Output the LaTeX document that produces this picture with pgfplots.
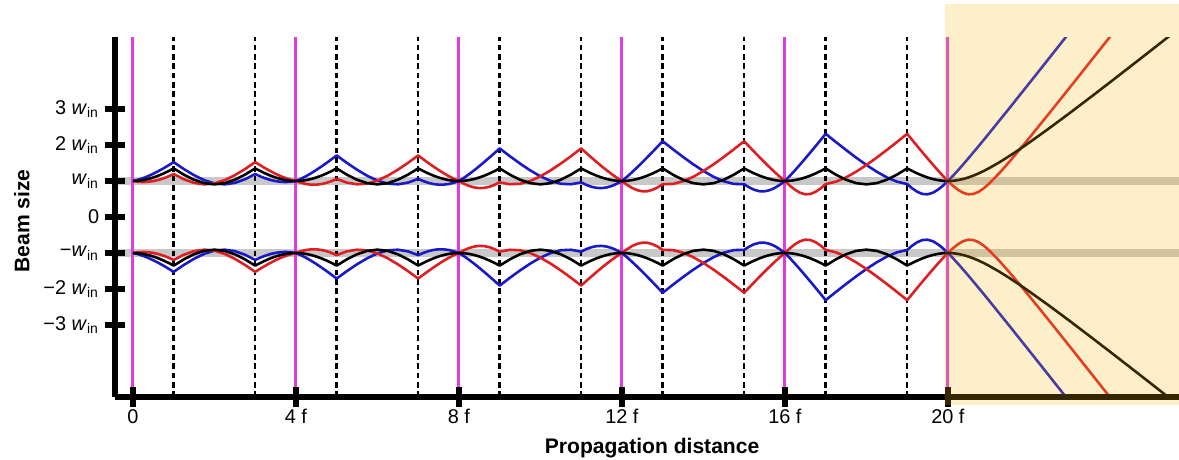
\documentclass[border=0pt]{standalone}
\usepackage{fontspec}
\setmainfont{Liberation Sans}
\usepackage{pgfplots}
\usepackage{pgfplotstable}
\pgfplotsset{compat=1.18}

\definecolor{bcol}{RGB}{25,25,200}
\definecolor{rcol}{RGB}{222,30,35}
\definecolor{magcol}{RGB}{222,60,222}
\definecolor{bandcol}{RGB}{200,200,200}
\definecolor{ovcol}{RGB}{250,180,20}

% beam half-width in units of w_in, upper branch (lower branch is the mirror)
\pgfplotstableread{
x w
0 1
0.125 1.034
0.25 1.080
0.375 1.136
0.5 1.201
0.625 1.274
0.75 1.352
0.875 1.436
1 1.524
1.25 1.331
1.5 1.161
1.75 1.024
2 0.934
2.25 0.907
2.5 0.947
2.75 1.048
3 1.193
3.125 1.129
3.25 1.074
3.375 1.029
3.5 0.997
3.625 0.977
3.75 0.971
3.875 0.978
4 1
4.125 1.062
4.25 1.135
4.375 1.217
4.5 1.306
4.625 1.401
4.75 1.500
4.875 1.604
5 1.710
5.25 1.504
5.5 1.313
5.75 1.145
6 1.012
6.25 0.928
6.5 0.908
6.75 0.955
7 1.060
7.125 0.998
7.25 0.949
7.375 0.915
7.5 0.898
7.625 0.898
7.75 0.916
7.875 0.951
8 1
8.125 1.090
8.25 1.191
8.375 1.298
8.5 1.412
8.625 1.531
8.75 1.653
8.875 1.777
9 1.905
9.25 1.689
9.5 1.484
9.75 1.295
10 1.130
10.25 1.001
10.5 0.923
10.75 0.910
11 0.963
11.125 0.893
11.25 0.840
11.375 0.810
11.5 0.803
11.625 0.821
11.75 0.862
11.875 0.923
12 1
12.125 1.118
12.25 1.246
12.375 1.380
12.5 1.519
12.625 1.662
12.75 1.808
12.875 1.956
13 2.105
13.25 1.883
13.5 1.668
13.75 1.464
14 1.278
14.25 1.116
14.5 0.991
14.75 0.919
15 0.912
15.125 0.821
15.25 0.754
15.375 0.716
15.5 0.713
15.625 0.745
15.75 0.807
15.875 0.895
16 1
16.125 1.146
16.25 1.301
16.375 1.462
16.5 1.627
16.625 1.795
16.75 1.965
16.875 2.137
17 2.310
17.25 2.083
17.5 1.861
17.75 1.647
18 1.445
18.25 1.260
18.5 1.101
18.75 0.981
19 0.915
19.125 0.793
19.25 0.698
19.375 0.640
19.5 0.630
19.625 0.671
19.75 0.754
19.875 0.867
20 1
20.125 1.146
20.25 1.301
20.375 1.462
20.5 1.627
20.75 1.965
21 2.310
21.5 3.012
22 3.722
22.5 4.435
23 5.152
}\bluedata

\pgfplotstableread{
x w
0 1
0.125 0.978
0.25 0.971
0.375 0.977
0.5 0.997
0.625 1.029
0.75 1.074
0.875 1.129
1 1.193
1.25 1.048
1.5 0.947
1.75 0.907
2 0.934
2.25 1.024
2.5 1.161
2.75 1.331
3 1.524
3.125 1.436
3.25 1.352
3.375 1.274
3.5 1.201
3.625 1.136
3.75 1.080
3.875 1.034
4 1
4.125 0.951
4.25 0.916
4.375 0.898
4.5 0.898
4.625 0.915
4.75 0.949
4.875 0.998
5 1.060
5.25 0.955
5.5 0.908
5.75 0.928
6 1.012
6.25 1.145
6.5 1.313
6.75 1.504
7 1.710
7.125 1.604
7.25 1.500
7.375 1.401
7.5 1.306
7.625 1.217
7.75 1.135
7.875 1.062
8 1
8.125 0.923
8.25 0.862
8.375 0.821
8.5 0.803
8.625 0.810
8.75 0.840
8.875 0.893
9 0.963
9.25 0.910
9.5 0.923
9.75 1.001
10 1.130
10.25 1.295
10.5 1.484
10.75 1.689
11 1.905
11.125 1.777
11.25 1.653
11.375 1.531
11.5 1.412
11.625 1.298
11.75 1.191
11.875 1.090
12 1
12.125 0.895
12.25 0.807
12.375 0.745
12.5 0.713
12.625 0.716
12.75 0.754
12.875 0.821
13 0.912
13.25 0.919
13.5 0.991
13.75 1.116
14 1.278
14.25 1.464
14.5 1.668
14.75 1.883
15 2.105
15.125 1.956
15.25 1.808
15.375 1.662
15.5 1.519
15.625 1.380
15.75 1.246
15.875 1.118
16 1
16.125 0.867
16.25 0.754
16.375 0.671
16.5 0.630
16.625 0.640
16.75 0.698
16.875 0.793
17 0.915
17.25 0.981
17.5 1.101
17.75 1.260
18 1.445
18.25 1.647
18.5 1.861
18.75 2.083
19 2.310
19.125 2.137
19.25 1.965
19.375 1.795
19.5 1.627
19.625 1.462
19.75 1.301
19.875 1.146
20 1
20.125 0.867
20.25 0.754
20.375 0.671
20.5 0.630
20.625 0.640
20.75 0.698
20.875 0.793
21 0.915
21.25 1.204
21.5 1.524
21.75 1.859
22 2.202
22.5 2.902
23 3.611
23.5 4.324
24 5.040
}\reddata

\pgfplotstableread{
x w
0 1
0.125 1.006
0.25 1.025
0.375 1.056
0.5 1.098
0.625 1.149
0.75 1.209
0.875 1.276
1 1.350
1.25 1.177
1.5 1.035
1.75 0.940
2 0.907
2.25 0.940
2.5 1.035
2.75 1.177
3 1.350
3.125 1.276
3.25 1.209
3.375 1.149
3.5 1.098
3.625 1.056
3.75 1.025
3.875 1.006
4 1
4.125 1.006
4.25 1.025
4.375 1.056
4.5 1.098
4.625 1.149
4.75 1.209
4.875 1.276
5 1.350
5.25 1.177
5.5 1.035
5.75 0.940
6 0.907
6.25 0.940
6.5 1.035
6.75 1.177
7 1.350
7.125 1.276
7.25 1.209
7.375 1.149
7.5 1.098
7.625 1.056
7.75 1.025
7.875 1.006
8 1
8.125 1.006
8.25 1.025
8.375 1.056
8.5 1.098
8.625 1.149
8.75 1.209
8.875 1.276
9 1.350
9.25 1.177
9.5 1.035
9.75 0.940
10 0.907
10.25 0.940
10.5 1.035
10.75 1.177
11 1.350
11.125 1.276
11.25 1.209
11.375 1.149
11.5 1.098
11.625 1.056
11.75 1.025
11.875 1.006
12 1
12.125 1.006
12.25 1.025
12.375 1.056
12.5 1.098
12.625 1.149
12.75 1.209
12.875 1.276
13 1.350
13.25 1.177
13.5 1.035
13.75 0.940
14 0.907
14.25 0.940
14.5 1.035
14.75 1.177
15 1.350
15.125 1.276
15.25 1.209
15.375 1.149
15.5 1.098
15.625 1.056
15.75 1.025
15.875 1.006
16 1
16.125 1.006
16.25 1.025
16.375 1.056
16.5 1.098
16.625 1.149
16.75 1.209
16.875 1.276
17 1.350
17.25 1.177
17.5 1.035
17.75 0.940
18 0.907
18.25 0.940
18.5 1.035
18.75 1.177
19 1.350
19.125 1.276
19.25 1.209
19.375 1.149
19.5 1.098
19.625 1.056
19.75 1.025
19.875 1.006
20 1
20.125 1.006
20.25 1.025
20.375 1.056
20.5 1.098
20.625 1.149
20.75 1.209
20.875 1.276
21 1.350
21.25 1.511
21.5 1.688
21.75 1.875
22 2.071
22.5 2.477
23 2.898
23.5 3.327
24 3.762
24.5 4.201
25 4.642
25.5 5.086
}\blackdata

\begin{document}
\begin{tikzpicture}
\useasboundingbox (-1.725cm,-0.945cm) rectangle (15.96cm,5.955cm);
\begin{axis}[
    x=0.61125cm, y=0.54cm,
    xmin=-0.44, xmax=25.67, ymin=-5, ymax=5,
    axis on top,
    axis x line=bottom, axis y line=left,
    axis line style={line width=2.6pt, -, black},
    xtick={0,4,8,12,16,20},
    xticklabels={0, 4 f, 8 f, 12 f, 16 f, 20 f},
    ytick={-3,-2,-1,0,1,2,3},
    yticklabels={−3 \textit{w}\textsubscript{in}, −2 \textit{w}\textsubscript{in}, −\textit{w}\textsubscript{in}, 0, \textit{w}\textsubscript{in}, 2 \textit{w}\textsubscript{in}, 3 \textit{w}\textsubscript{in}},
    tick align=center,
    major tick length=8.5pt,
    tick style={line width=2.8pt, black},
    tick label style={font=\fontsize{8.5}{10}\selectfont},
    xticklabel style={yshift=2.5pt},
    yticklabel style={xshift=1pt},
    xlabel={\textbf{Propagation distance}},
    ylabel={\textbf{Beam size}},
    label style={font=\fontsize{9}{11}\selectfont},
    xlabel style={at={(axis description cs:0.5048,-0.142)}, anchor=center},
    ylabel style={at={(axis description cs:-0.0875,0.489)}, anchor=center},
]
\addplot[bandcol, line width=3pt] coordinates {(-0.44,1) (25.67,1)};
\addplot[bandcol, line width=3pt] coordinates {(-0.44,-1) (25.67,-1)};
\pgfplotsinvokeforeach{1,3,...,19}{
  \addplot[black, line width=1.1pt, dash pattern=on 2.4pt off 1.6pt] coordinates {(#1,-5) (#1,5)};
}
\pgfplotsinvokeforeach{0,4,...,20}{
  \addplot[magcol, line width=1.3pt] coordinates {(#1,-5) (#1,5)};
}
\addplot[bcol, line width=1.1pt, line join=round] table[x=x, y=w] {\bluedata};
\addplot[bcol, line width=1.1pt, line join=round] table[x=x, y expr=-\thisrow{w}] {\bluedata};
\addplot[rcol, line width=1.1pt, line join=round] table[x=x, y=w] {\reddata};
\addplot[rcol, line width=1.1pt, line join=round] table[x=x, y expr=-\thisrow{w}] {\reddata};
\addplot[black, line width=1.1pt, line join=round] table[x=x, y=w] {\blackdata};
\addplot[black, line width=1.1pt, line join=round] table[x=x, y expr=-\thisrow{w}] {\blackdata};
\coordinate (ovA) at (axis cs:19.93,-5.22);
\coordinate (ovB) at (axis cs:25.67,5.92);
\end{axis}
\fill[ovcol, fill opacity=0.22] (ovA) rectangle (ovB);
\end{tikzpicture}
\end{document}
